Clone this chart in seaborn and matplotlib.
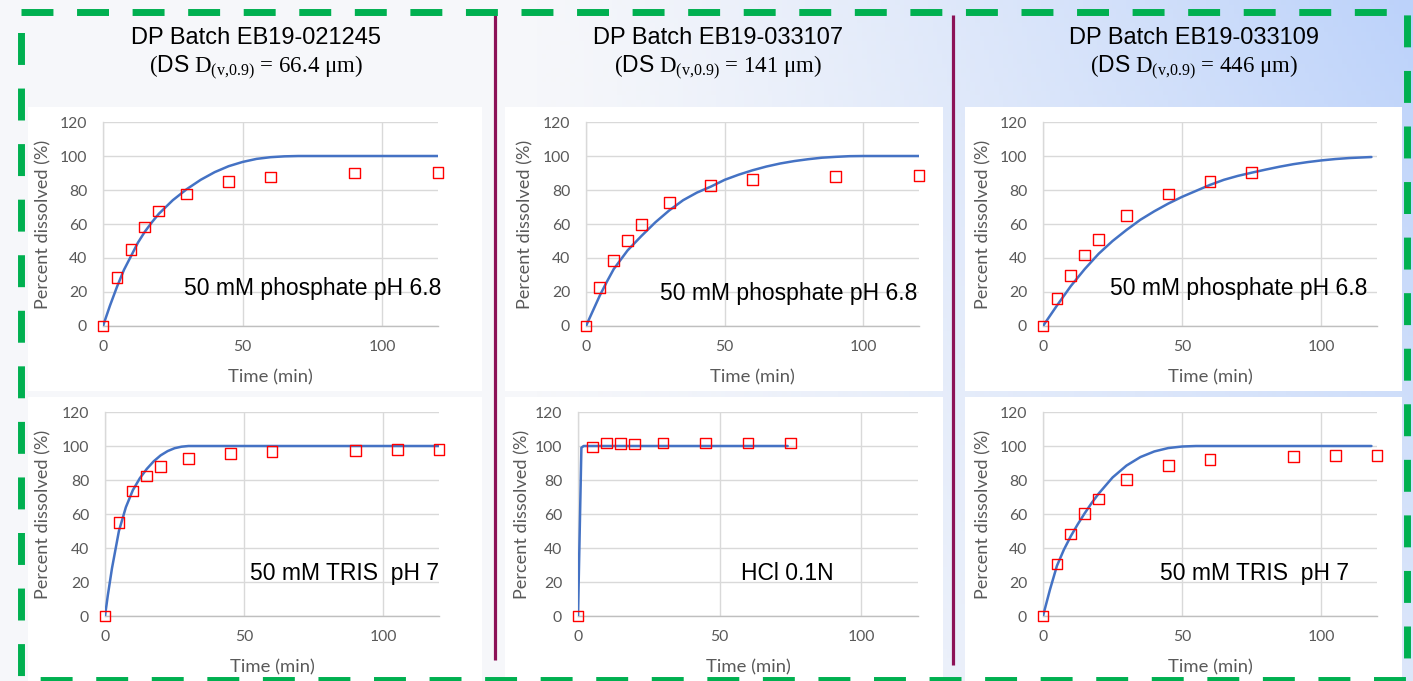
import numpy as np
import matplotlib
matplotlib.use("Agg")
import matplotlib.pyplot as plt
from matplotlib.patches import Rectangle
import seaborn as sns

sns.set_style("white")
plt.rcParams["font.family"] = ["Lato", "DejaVu Sans"]
plt.rcParams["mathtext.fontset"] = "custom"
plt.rcParams["mathtext.rm"] = "Liberation Serif"
plt.rcParams["mathtext.sf"] = "Liberation Sans"

# ---- column headers ----
batch_names = ["DP Batch EB19-021245", "DP Batch EB19-033107", "DP Batch EB19-033109"]
ds_d90 = ["66.4", "141", "446"]

# ---- media labels ----
media_top = ["50 mM phosphate pH 6.8", "50 mM phosphate pH 6.8", "50 mM phosphate pH 6.8"]
media_bottom = ["50 mM TRIS  pH 7", "HCl 0.1N", "50 mM TRIS  pH 7"]

# ---- observed dissolution (time in min, % dissolved) ----
obs_t_021245_phos = [0, 5, 10, 15, 20, 30, 45, 60, 90, 120]
obs_y_021245_phos = [0, 28.4, 45.0, 58.3, 67.7, 77.7, 85.0, 87.7, 90.0, 90.4]
obs_t_021245_tris = [0, 5, 10, 15, 20, 30, 45, 60, 90, 105, 120]
obs_y_021245_tris = [0, 55.0, 73.5, 82.3, 87.8, 92.7, 95.7, 96.7, 97.2, 97.8, 97.8]

obs_t_033107_phos = [0, 5, 10, 15, 20, 30, 45, 60, 90, 120]
obs_y_033107_phos = [0, 22.7, 38.4, 50.1, 59.5, 72.8, 82.6, 86.1, 88.1, 88.7]
obs_t_033107_hcl = [0, 5, 10, 15, 20, 30, 45, 60, 75]
obs_y_033107_hcl = [0, 99.4, 101.8, 101.4, 101.2, 101.8, 101.8, 101.8, 101.8]

obs_t_033109_phos = [0, 5, 10, 15, 20, 30, 45, 60, 75]
obs_y_033109_phos = [0, 16.2, 29.6, 41.7, 51.1, 65.0, 77.7, 85.0, 90.1]
obs_t_033109_tris = [0, 5, 10, 15, 20, 30, 45, 60, 90, 105, 120]
obs_y_033109_tris = [0, 30.6, 48.3, 60.5, 68.8, 80.5, 88.6, 91.9, 93.7, 94.3, 94.3]

# ---- predicted dissolution profiles ----
pred_t_021245_phos = [0, 2.5, 5, 7.5, 10, 12.5, 15, 17.5, 20, 25, 30, 35, 40, 45, 50, 55, 60, 65, 70, 120]
pred_y_021245_phos = [0, 12, 23, 33, 41, 49, 55.5, 61, 66, 74, 80.5, 86, 90.5, 94, 96.5, 98.3, 99.3, 99.8, 100, 100]
pred_t_021245_tris = [0, 1, 2.5, 5, 7.5, 10, 12.5, 15, 17.5, 20, 22.5, 25, 27.5, 30, 120]
pred_y_021245_tris = [0, 12, 28, 50, 64, 74, 81, 86.5, 91, 94.5, 97, 98.7, 99.6, 100, 100]

pred_t_033107_phos = [0, 2.5, 5, 7.5, 10, 15, 20, 25, 30, 35, 40, 45, 50, 55, 60, 65, 70, 75, 80, 85, 90, 95, 100, 120]
pred_y_033107_phos = [0, 9, 18, 26, 33.5, 44.5, 53, 61, 68, 74, 78.5, 82, 86, 89, 91.6, 93.8, 95.6, 97, 98.1, 99, 99.5, 99.9, 100, 100]
pred_t_033107_hcl = [0, 1.2, 2, 74]
pred_y_033107_hcl = [0, 99, 100, 100]

pred_t_033109_phos = [0, 5, 10, 15, 20, 25, 30, 35, 40, 45, 50, 55, 60, 65, 70, 75, 80, 85, 90, 95, 100, 105, 110, 118]
pred_y_033109_phos = [0, 12, 23.5, 33.5, 42.5, 50, 56.5, 62.5, 67.5, 72, 76, 79.5, 83, 86, 88.3, 90.2, 92, 93.7, 95.2, 96.4, 97.4, 98.2, 98.8, 99.4]
pred_t_033109_tris = [0, 2.5, 5, 7.5, 10, 12.5, 15, 17.5, 20, 25, 30, 35, 40, 45, 50, 55, 118]
pred_y_033109_tris = [0, 15.5, 29.5, 39, 47, 54, 60.5, 66.5, 72, 81.5, 88.5, 93.5, 96.8, 98.8, 99.7, 100, 100]

x_ticks = [0, 50, 100]
y_ticks = [0, 20, 40, 60, 80, 100, 120]

W, H = 1413, 681
fig = plt.figure(figsize=(W / 100, H / 100), dpi=100)

# ---- slide background ----
bg = fig.add_axes([0, 0, 1, 1])
bg.set_xlim(0, W)
bg.set_ylim(H, 0)
bg.axis("off")
gx, gy = np.meshgrid(np.linspace(0, 1, 300), np.linspace(0, 1, 150))
wgt = np.clip((gx - 0.38) / 0.62, 0, 1) ** 1.2 * (1 - 0.55 * gy)
c_light = np.array([246, 247, 250]) / 255
c_blue = np.array([188, 210, 250]) / 255
grad = c_light[None, None, :] * (1 - wgt[..., None]) + c_blue[None, None, :] * wgt[..., None]
bg.imshow(grad, extent=(0, W, H, 0), aspect="auto", zorder=0)

# white chart areas
panel_cols = [(28, 482), (505, 943), (965, 1402)]
panel_rows = [(107, 391), (397, 681)]
for (x0, x1) in panel_cols:
    for (y0, y1) in panel_rows:
        bg.add_patch(Rectangle((x0, y0), x1 - x0, y1 - y0, facecolor="white",
                               edgecolor="none", zorder=1))

# column separators
for xs, y1 in [(494.5, 660), (953, 665)]:
    bg.plot([xs, xs], [15, y1], color="#8c1257", lw=2.3, zorder=3,
            solid_capstyle="butt")

# dashed frame
bg.add_patch(Rectangle((20.7, 11.5), 1386, 668.5, fill=False, edgecolor="#00b050",
                       lw=5, linestyle=(0, (4.6, 3.4)), zorder=4))

# column headers
header_x = [256, 718, 1194]
for cx, name, d90 in zip(header_x, batch_names, ds_d90):
    bg.text(cx, 38, name, ha="center", va="center", fontsize=17,
            family="Liberation Sans", color="black", zorder=5)
    line2 = (r"($\mathsf{DS}$ D$_{\mathregular{(v{,}0.9)}}$"
             + " = %s μm)" % d90)
    bg.text(cx, 68, line2, ha="center", va="center", fontsize=16.5,
            family="Liberation Serif", color="black", zorder=5)

# ---- chart panels ----
axes_px = [
    [(103, 438, 122, 326), (586, 919, 122, 326), (1043, 1377, 122, 326)],
    [(105, 439, 412, 616), (578, 918, 412, 616), (1043, 1377, 412, 616)],
]
obs = [
    [(obs_t_021245_phos, obs_y_021245_phos), (obs_t_033107_phos, obs_y_033107_phos),
     (obs_t_033109_phos, obs_y_033109_phos)],
    [(obs_t_021245_tris, obs_y_021245_tris), (obs_t_033107_hcl, obs_y_033107_hcl),
     (obs_t_033109_tris, obs_y_033109_tris)],
]
pred = [
    [(pred_t_021245_phos, pred_y_021245_phos), (pred_t_033107_phos, pred_y_033107_phos),
     (pred_t_033109_phos, pred_y_033109_phos)],
    [(pred_t_021245_tris, pred_y_021245_tris), (pred_t_033107_hcl, pred_y_033107_hcl),
     (pred_t_033109_tris, pred_y_033109_tris)],
]
media = [media_top, media_bottom]
media_pos = [
    [(1.01, 0.186, "right"), (0.994, 0.157, "right"), (0.97, 0.186, "right")],
    [(1.0, 0.21, "right"), (0.615, 0.21, "center"), (0.916, 0.21, "right")],
]
ylabel_x = [[-0.179, -0.183, -0.18], [-0.186, -0.165, -0.18]]

grid_c = "#d9d9d9"
text_c = "#595959"

for r in range(2):
    for c in range(3):
        l, rr, t, b = axes_px[r][c]
        ax = fig.add_axes([l / W, (H - b) / H, (rr - l) / W, (b - t) / H])
        ax.set_facecolor("none")
        ax.set_xlim(0, 120)
        ax.set_ylim(0, 120)
        ax.set_xticks(x_ticks)
        ax.set_yticks(y_ticks)
        ax.grid(True, color=grid_c, lw=1.0)
        ax.set_axisbelow(True)
        for s in ["top", "right"]:
            ax.spines[s].set_visible(False)
        ax.spines["left"].set_color(grid_c)
        ax.spines["left"].set_linewidth(1.0)
        ax.spines["bottom"].set_color("#bfbfbf")
        ax.spines["bottom"].set_linewidth(1.0)
        ax.tick_params(length=0, labelsize=11.3, labelcolor=text_c)
        ax.tick_params(axis="y", pad=11.5)
        ax.tick_params(axis="x", pad=10)

        pt, py = pred[r][c]
        sns.lineplot(x=pt, y=py, ax=ax, color="#4472c4", lw=1.8, sort=False,
                     zorder=3)
        ot, oy = obs[r][c]
        sns.scatterplot(x=ot, y=oy, ax=ax, marker="s", s=60, facecolor="none",
                        edgecolor="#ff0000", linewidth=1.0, zorder=4, clip_on=False)

        ax.set_xlabel("Time (min)", fontsize=13.3, color=text_c)
        ax.set_ylabel("Percent dissolved (%)", fontsize=13.1, color=text_c)
        ax.xaxis.set_label_coords(0.5, -0.25)
        ax.xaxis.label.set_va("center")
        ax.yaxis.set_label_coords(ylabel_x[r][c], 0.5)
        ax.yaxis.label.set_va("center")

        mx, my, ha = media_pos[r][c]
        ax.text(mx, my, media[r][c], transform=ax.transAxes, ha=ha, va="center",
                fontsize=16.5, family="Liberation Sans", color="black", zorder=5)

fig.savefig("out.png", dpi=100)
